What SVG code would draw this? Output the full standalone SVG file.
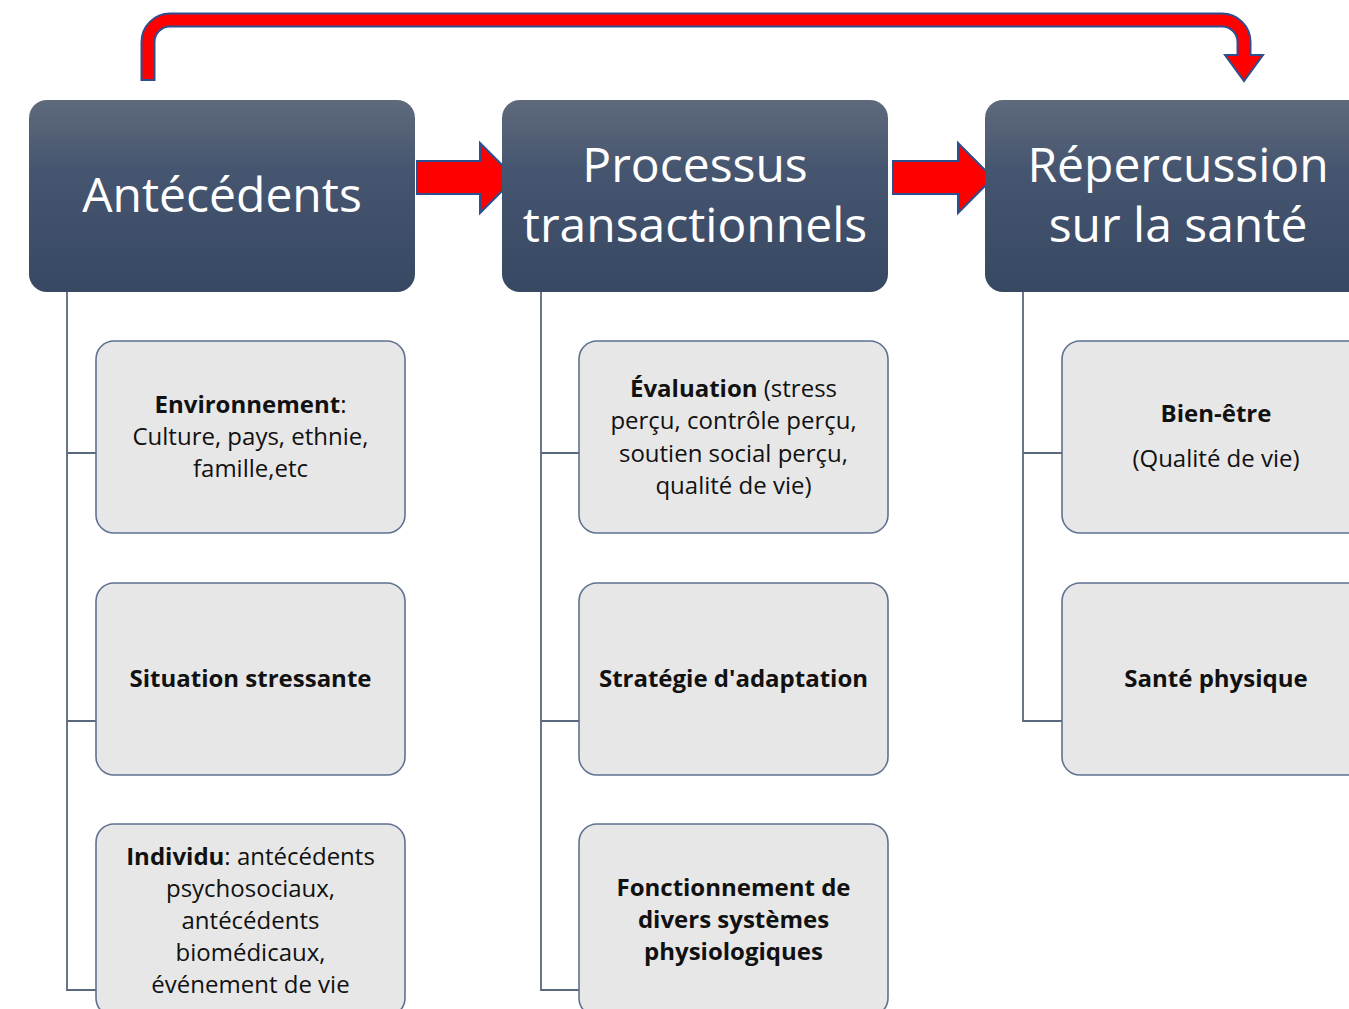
<svg xmlns="http://www.w3.org/2000/svg" width="1349" height="1009" viewBox="0 0 1349 1009">
<defs>
<linearGradient id="hdr" x1="0" y1="0" x2="0" y2="1">
<stop offset="0" stop-color="#5e6a7c"/>
<stop offset="0.35" stop-color="#475670"/>
<stop offset="1" stop-color="#374862"/>
</linearGradient>
<style>
.hdr rect{fill:url(#hdr);}
.ht{font-family:"Open Sans","Noto Sans",sans-serif;fill:#ffffff;text-anchor:middle;font-size:48px;}
.box{fill:#e7e7e7;stroke:#5f7190;stroke-width:1.6;}
.bt{font-family:"Open Sans","Noto Sans",sans-serif;fill:#111111;text-anchor:middle;font-size:24px;}
.b{font-weight:bold;}
.conn{fill:none;stroke:#5a687e;stroke-width:1.8;}
.arrow{fill:#ff0000;stroke:#2e4f8f;stroke-width:2;stroke-linejoin:miter;}
</style>
</defs>
<rect width="1349" height="1009" fill="#ffffff"/>

<g id="connectors">
<path class="conn" d="M67 292 V990 H96 M67 453 H96 M67 721 H96"/>
<path class="conn" d="M541 292 V990 H579 M541 453 H579 M541 721 H579"/>
<path class="conn" d="M1023 292 V721 H1062 M1023 453 H1062"/>
<path class="arrow" d="M417 161 H480 V143 L515 178 L480 213 V194 H417 Z"/>
<path class="arrow" d="M893 161 H958 V143 L993 178 L958 213 V194 H893 Z"/>
<path class="arrow" d="M141.5 80 V42 A28.5 28.5 0 0 1 170 13.5 H1222 A28.5 28.5 0 0 1 1250.5 42 V55 H1263 L1244 81 L1225 55 H1237.5 V42 A15.5 15.5 0 0 0 1222 26.5 H170 A15.5 15.5 0 0 0 154.5 42 V80 Z"/>
</g>

<g id="antecedents" class="hdr">
<rect x="29" y="100" width="386" height="192" rx="18"/>
<text class="ht" x="222" y="212">Antécédents</text>
</g>
<g id="processus" class="hdr">
<rect x="502" y="100" width="386" height="192" rx="18"/>
<text class="ht" x="695" y="182">Processus</text>
<text class="ht" x="695" y="242">transactionnels</text>
</g>
<g id="repercussion" class="hdr">
<rect x="985" y="100" width="386" height="192" rx="18"/>
<text class="ht" x="1178" y="182">Répercussion</text>
<text class="ht" x="1178" y="242">sur la santé</text>
</g>

<g id="environnement">
<rect class="box" x="96" y="341" width="309" height="192" rx="18"/>
<text class="bt" x="250.5" y="413"><tspan class="b">Environnement</tspan>:</text>
<text class="bt" x="250.5" y="445">Culture, pays, ethnie,</text>
<text class="bt" x="250.5" y="477">famille,etc</text>
</g>
<g id="situation">
<rect class="box" x="96" y="583" width="309" height="192" rx="18"/>
<text class="bt b" x="250.5" y="687">Situation stressante</text>
</g>
<g id="individu">
<rect class="box" x="96" y="824" width="309" height="192" rx="18"/>
<text class="bt" x="250.5" y="865"><tspan class="b">Individu</tspan>: antécédents</text>
<text class="bt" x="250.5" y="897">psychosociaux,</text>
<text class="bt" x="250.5" y="929">antécédents</text>
<text class="bt" x="250.5" y="961">biomédicaux,</text>
<text class="bt" x="250.5" y="993">événement de vie</text>
</g>

<g id="evaluation">
<rect class="box" x="579" y="341" width="309" height="192" rx="18"/>
<text class="bt" x="733.5" y="397"><tspan class="b">Évaluation</tspan> (stress</text>
<text class="bt" x="733.5" y="429">perçu, contrôle perçu,</text>
<text class="bt" x="733.5" y="462">soutien social perçu,</text>
<text class="bt" x="733.5" y="494">qualité de vie)</text>
</g>
<g id="strategie">
<rect class="box" x="579" y="583" width="309" height="192" rx="18"/>
<text class="bt b" x="733.5" y="687">Stratégie d'adaptation</text>
</g>
<g id="fonctionnement">
<rect class="box" x="579" y="824" width="309" height="192" rx="18"/>
<text class="bt b" x="733.5" y="896">Fonctionnement de</text>
<text class="bt b" x="733.5" y="928">divers systèmes</text>
<text class="bt b" x="733.5" y="960">physiologiques</text>
</g>

<g id="bienetre">
<rect class="box" x="1062" y="341" width="309" height="192" rx="18"/>
<text class="bt b" x="1216" y="422">Bien-être</text>
<text class="bt" x="1216" y="467">(Qualité de vie)</text>
</g>
<g id="sante">
<rect class="box" x="1062" y="583" width="309" height="192" rx="18"/>
<text class="bt b" x="1216" y="687">Santé physique</text>
</g>
</svg>
